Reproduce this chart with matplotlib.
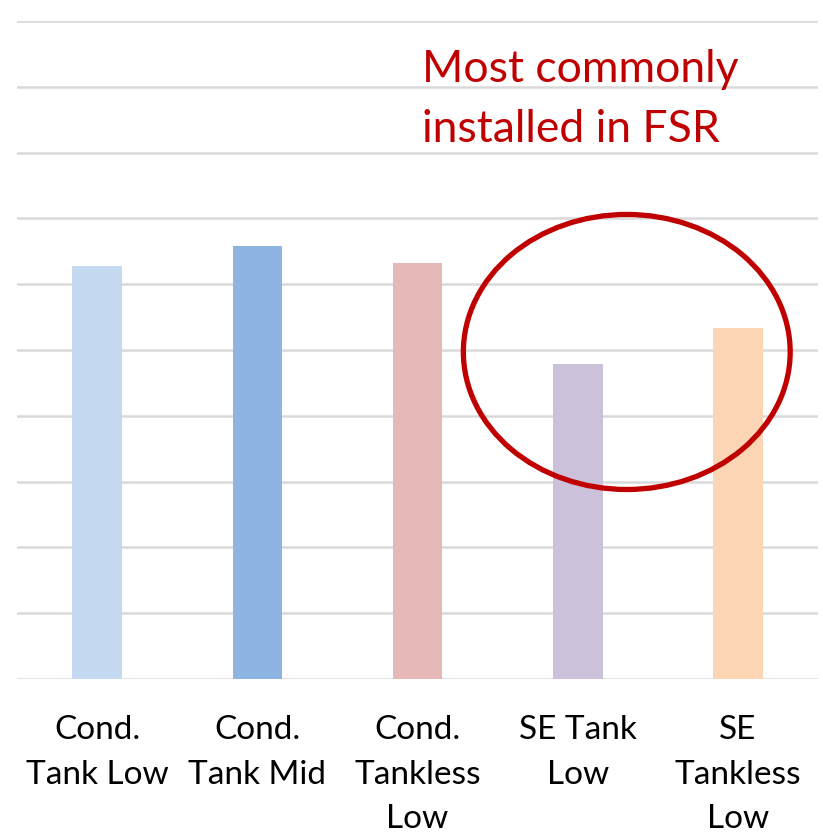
import numpy as np
import matplotlib.pyplot as plt
from matplotlib.patches import Ellipse

# Categories and values (arbitrary units, gridline step = 1)
categories = ["Cond.\nTank Low", "Cond.\nTank Mid", "Cond.\nTankless\nLow", "SE Tank\nLow", "SE\nTankless\nLow"]
values = [6.28, 6.58, 6.32, 4.79, 5.33]
colors = ["#C5D9F1", "#8EB4E3", "#E6B9B8", "#CCC1DA", "#FCD5B5"]
note_lines = ["Most commonly", "installed in FSR"]

plt.rcParams['font.family'] = ['Lato', 'DejaVu Sans']

fig = plt.figure(figsize=(8.23, 8.37), dpi=100)
ax = fig.add_axes([0.0207, 0.1876, 0.9733, 0.7861])

x = np.arange(len(categories))
ax.bar(x, values, width=0.31, color=colors, zorder=2)

ax.set_xlim(-0.5, 4.5)
ax.set_ylim(0, 10)
ax.set_yticks(np.arange(0, 11, 1))
ax.yaxis.grid(True, color="#D9D9D9", linewidth=1.8)
ax.set_axisbelow(True)
ax.tick_params(axis='y', left=False, labelleft=False)
ax.tick_params(axis='x', length=0, pad=25)
ax.set_xticks(x)
ax.set_xticklabels(categories, fontsize=24, linespacing=1.62, color="black")
for s in ax.spines.values():
    s.set_visible(False)

# annotation
red = "#C00000"
ax.text(2.025, 9.09, note_lines[0], color=red, fontsize=32, va='baseline', ha='left')
ax.text(2.025, 8.18, note_lines[1], color=red, fontsize=32, va='baseline', ha='left')
ax.add_patch(Ellipse((3.306, 4.97), 2.04, 4.18, fill=False, edgecolor=red,
                     linewidth=3.8, clip_on=False, zorder=3))

fig.savefig("out.png", dpi=100)
